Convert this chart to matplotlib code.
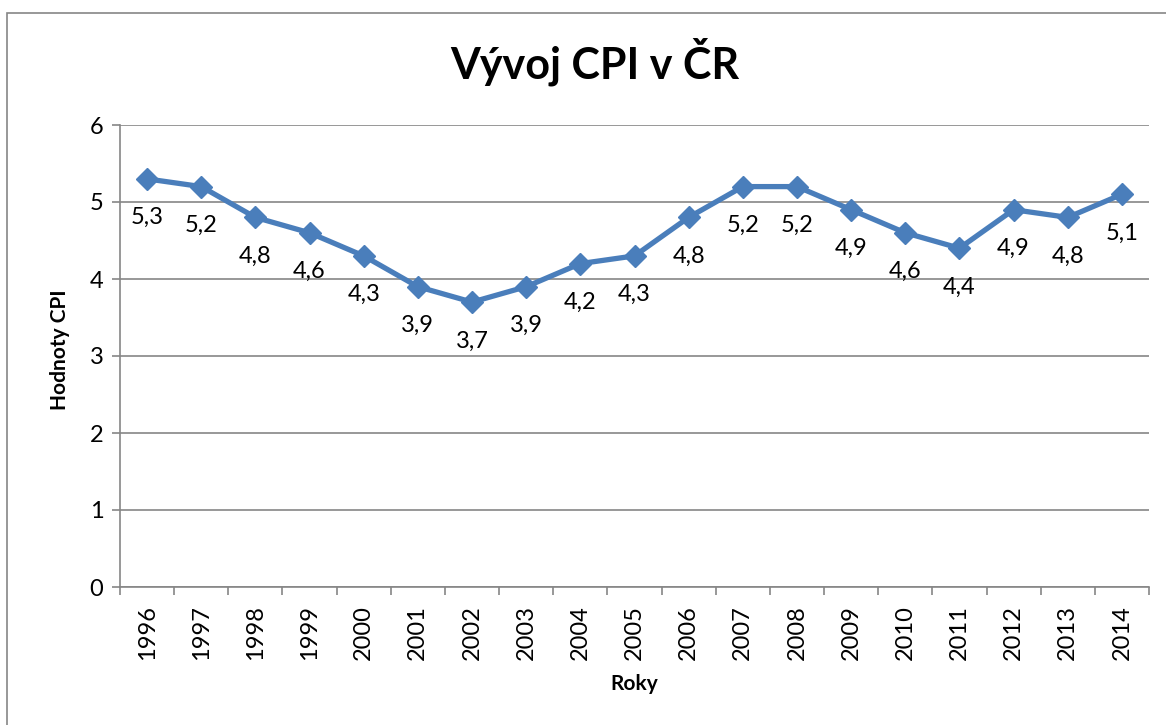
#!/usr/bin/env python
from matplotlib import pyplot as plt
from matplotlib.patches import Rectangle
import numpy as np

plt.rcParams['font.family'] = ['Lato', 'DejaVu Sans']

# data
years = ['1996', '1997', '1998', '1999', '2000', '2001', '2002', '2003', '2004', '2005',
         '2006', '2007', '2008', '2009', '2010', '2011', '2012', '2013', '2014']
cpi = [5.3, 5.2, 4.8, 4.6, 4.3, 3.9, 3.7, 3.9, 4.2, 4.3,
       4.8, 5.2, 5.2, 4.9, 4.6, 4.4, 4.9, 4.8, 5.1]
yticks = [0, 1, 2, 3, 4, 5, 6]

W, H = 1166, 725
blue = '#4A7EBB'
gray = '#868686'

fig = plt.figure(figsize=(W/100, H/100), dpi=100)
ax = fig.add_axes([120/W, 1-587/H, (1149-120)/W, (587-125)/H])

# chart frame (cut at right/bottom like in the reference)
fig.patches.append(Rectangle((7/W, -0.1), 1.2, 1-13/H+0.1, transform=fig.transFigure,
                             fill=False, edgecolor=gray, linewidth=1.2))

x = np.arange(len(years))
ax.plot(x, cpi, color=blue, linewidth=3.8, marker='D', markersize=11,
        markerfacecolor=blue, markeredgecolor=blue, zorder=3)

for xi, v in zip(x, cpi):
    ax.annotate(('%.1f' % v).replace('.', ','), (xi, v), xytext=(0, -28),
                textcoords='offset points', ha='center', va='center', fontsize=17)

ax.set_xlim(-0.5, len(years)-0.5)
ax.set_ylim(0, 6)
ax.set_yticks(yticks)
ax.set_yticklabels([str(t) for t in yticks], fontsize=17)
ax.set_xticks(x)
ax.set_xticklabels(years, rotation=90, fontsize=17)
ax.set_xticks(np.arange(-0.5, len(years)), minor=True)
ax.tick_params(axis='x', which='major', length=0, pad=13)
ax.tick_params(axis='x', which='minor', length=6, color=gray, width=1.2)
ax.tick_params(axis='y', length=6, color=gray, width=1.2, pad=6)

ax.grid(axis='y', color=gray, linewidth=1.2)
ax.set_axisbelow(True)
for s in ['top', 'right']:
    ax.spines[s].set_visible(False)
for s in ['left', 'bottom']:
    ax.spines[s].set_color(gray)
    ax.spines[s].set_linewidth(1.2)

fig.text(595/W, 1-79/H, 'Vývoj CPI v ČR', ha='center', va='baseline',
         fontsize=31, fontweight='bold')
fig.text(60/W, 1-350/H, 'Hodnoty CPI', rotation=90, ha='center', va='center',
         fontsize=15, fontweight='bold')
fig.text(634/W, 1-690/H, 'Roky', ha='center', va='baseline', fontsize=15, fontweight='bold')

fig.savefig('out.png', dpi=100)
